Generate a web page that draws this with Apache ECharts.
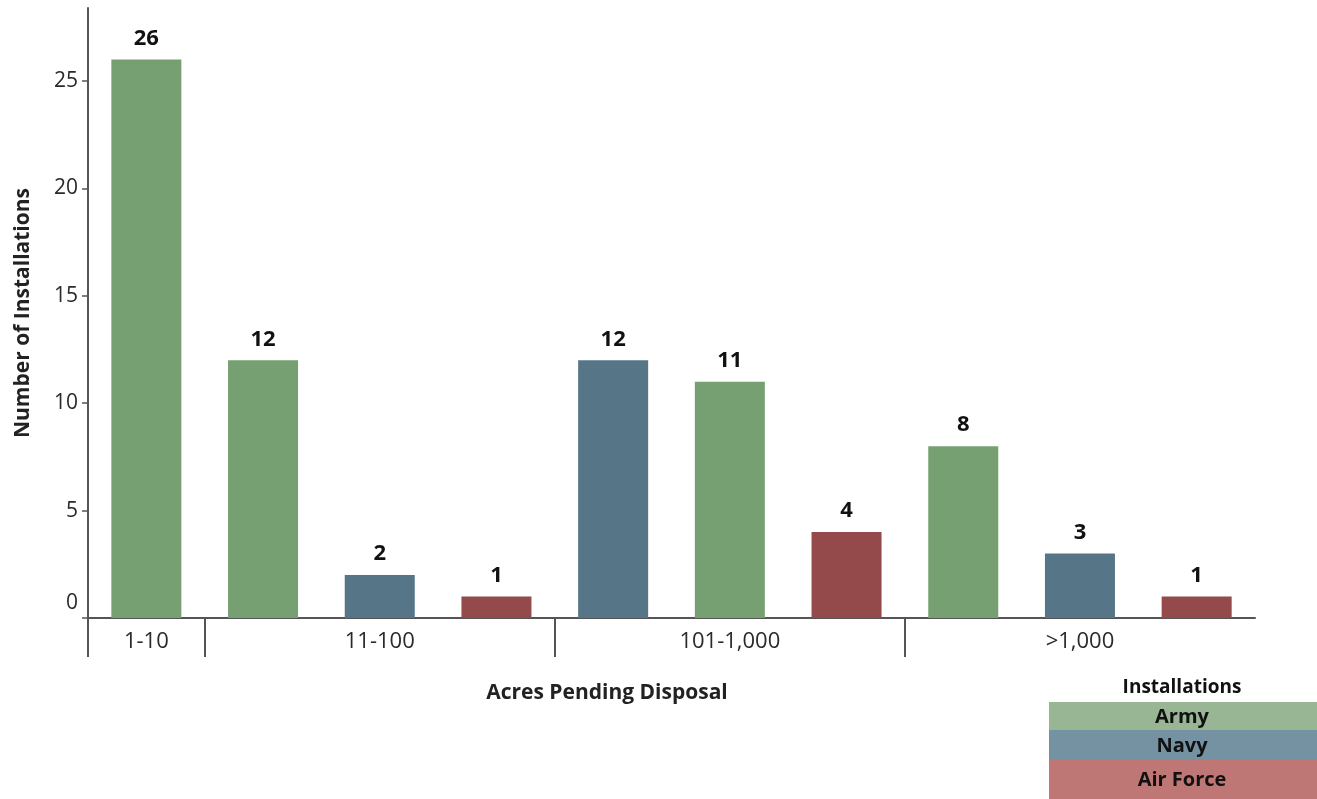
<!DOCTYPE html>
<html>
<head>
<meta charset="utf-8">
<script src="https://cdn.jsdelivr.net/npm/echarts@6/dist/echarts.min.js"></script>
<style>
  html, body { margin: 0; padding: 0; background: #fff; }
  #chart { width: 1317px; height: 799px; }
</style>
</head>
<body>
<div id="chart"></div>
<script>
// data
var groups = ['1-10', '11-100', '101-1,000', '>1,000'];
var barGroup = [0, 1, 1, 1, 2, 2, 2, 3, 3, 3];
var barService = ['Army', 'Army', 'Navy', 'Air Force', 'Navy', 'Army', 'Air Force', 'Army', 'Navy', 'Air Force'];
var barValues = [26, 12, 2, 1, 12, 11, 4, 8, 3, 1];
var services = ['Army', 'Navy', 'Air Force'];
var yTicks = [0, 5, 10, 15, 20, 25];

var barColors = { 'Army': '#769f72', 'Navy': '#567587', 'Air Force': '#944a4a' };
var legendColors = { 'Army': '#98b594', 'Navy': '#7592a2', 'Air Force': '#be7775' };
var font = 'Open Sans';

var box = document.getElementById('chart');
var myChart = echarts.init(box);

// category keys, one per bar
var cats = barValues.map(function (v, i) { return groups[barGroup[i]] + ' ' + barService[i] + ' ' + i; });

// group label only on the middle bar of each group, separators at group starts
var labelAt = {};
var groupStarts = [];
groups.forEach(function (g, gi) {
    var idx = [];
    barGroup.forEach(function (b, i) { if (b === gi) idx.push(i); });
    labelAt[idx[Math.floor(idx.length / 2)]] = g;
    groupStarts.push(idx[0]);
});

var sData = barValues.map(function (v, i) {
    return { value: v, itemStyle: { color: barColors[barService[i]] } };
});

// legend box
var legendGraphics = [{
    type: 'text', x: 1182, y: 688,
    style: { text: 'Installations', textAlign: 'center', textVerticalAlign: 'middle', font: 'bold 19px ' + font, fill: '#111' }
}];
var rowH = [28, 30, 39];
var yPos = 702;
services.forEach(function (s, i) {
    legendGraphics.push({
        type: 'rect', shape: { x: 1049, y: yPos, width: 268, height: rowH[i] },
        style: { fill: legendColors[s] }
    });
    legendGraphics.push({
        type: 'text', x: 1182, y: yPos + rowH[i] / 2 + 1,
        style: { text: s, textAlign: 'center', textVerticalAlign: 'middle', font: 'bold 20px ' + font, fill: '#111' }
    });
    yPos += rowH[i];
});

var options = {
    animation: false,
    grid: { left: 88, right: 62, top: 8, bottom: 181, outerBoundsMode: 'none' },
    xAxis: [
        {
            type: 'category',
            data: cats,
            axisLine: { lineStyle: { color: '#555', width: 2 } },
            axisTick: { show: false },
            axisLabel: {
                interval: 0,
                margin: 13,
                fontFamily: font,
                fontSize: 22,
                color: '#2a2a2a',
                formatter: function (v, i) { return labelAt[i] || ''; }
            }
        },
        {
            type: 'value',
            position: 'bottom',
            min: 0,
            max: barValues.length,
            axisLine: { show: false },
            splitLine: { show: false },
            axisLabel: { show: false },
            axisTick: {
                show: true,
                customValues: groupStarts,
                length: 39,
                lineStyle: { color: '#555', width: 2 }
            }
        }
    ],
    yAxis: {
        type: 'value',
        min: 0,
        max: 28.4,
        interval: 5,
        name: 'Number of Installations',
        nameLocation: 'middle',
        nameGap: 54,
        nameTextStyle: { fontFamily: font, fontSize: 21, fontWeight: 'bold', color: '#222' },
        splitLine: { show: false },
        axisLine: { show: true, lineStyle: { color: '#555', width: 2 } },
        axisTick: { show: true, length: 6, lineStyle: { color: '#555', width: 1.5 } },
        axisLabel: {
            showMaxLabel: false,
            margin: 10,
            fontFamily: font,
            fontSize: 21,
            color: '#2a2a2a',
            formatter: function (v) {
                if (yTicks.indexOf(v) < 0) return '';
                return v === 0 ? '{z|0}' : String(v);
            },
            rich: { z: { fontFamily: font, fontSize: 21, color: '#2a2a2a', padding: [0, 0, 30, 0] } }
        }
    },
    series: [{
        name: 'Installations',
        type: 'bar',
        xAxisIndex: 0,
        barWidth: 70,
        data: sData,
        label: {
            show: true,
            position: 'top',
            distance: 10,
            fontFamily: font,
            fontSize: 22,
            fontWeight: 'bold',
            color: '#111'
        }
    }],
    graphic: [{
        type: 'text', x: 607, y: 693,
        style: { text: 'Acres Pending Disposal', textAlign: 'center', textVerticalAlign: 'middle', font: 'bold 21px ' + font, fill: '#222' }
    }].concat(legendGraphics)
};

myChart.setOption(options);
</script>
</body>
</html>
